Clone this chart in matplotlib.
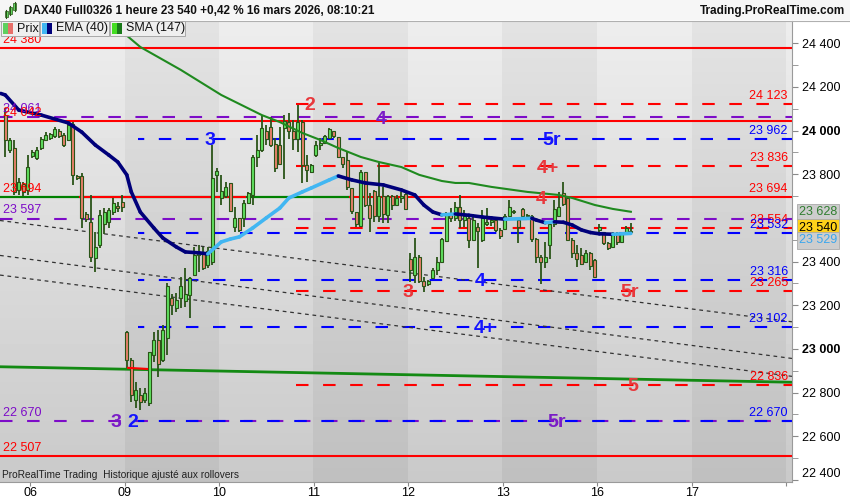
import numpy as np
import matplotlib.pyplot as plt
from matplotlib.collections import LineCollection
from matplotlib.patches import Rectangle

plt.rcParams['font.family'] = ['Liberation Sans', 'DejaVu Sans']

# DAX40 Full0326, 1 hour bars: last 6 bars of Thu 05, then 21 bars a day, Mon 16 until 08:00
day_labels = ['06', '09', '10', '11', '12', '13', '16', '17', '']
bars_per_day = 21
first_day_bars = 6

opens = [24070, 23910, 23920, 23730, 23755, 23730, 23885, 23875, 23920, 23955, 23965, 23975, 24000, 23980,
         23955, 24030, 23790, 23790, 23620, 23580, 23415, 23475, 23570, 23580, 23625, 23655, 23675,
         23075, 22950, 22765, 22790, 22765, 22750, 22970, 23040, 22950, 23050, 23235, 23185, 23235, 23220,
         23245, 23340, 23430, 23445, 23385, 23400, 23795,
         23690, 23700, 23760, 23560, 23600, 23600, 23670, 23705, 23880, 23910, 24000, 24015, 23940, 23935,
         24010, 24040, 24000, 23960, 24040, 23840, 23810,
         23890, 23935, 23945, 23965, 24000, 23970, 23880, 23865, 23735, 23625, 23565, 23810, 23660, 23725,
         23610, 23700, 23615, 23700, 23660, 23690, 23710,
         23410, 23340, 23420, 23310, 23295, 23325, 23360, 23400, 23495, 23620, 23600, 23650, 23590, 23600,
         23500, 23560, 23500, 23570, 23580, 23590, 23545,
         23550, 23610, 23630, 23590, 23640, 23610, 23610, 23505, 23420, 23400, 23475, 23570, 23610, 23715,
         23690, 23500, 23440, 23430, 23400, 23440, 23405,
         23545, 23535, 23485, 23465, 23525, 23490, 23535, 23535]
highs = [24105, 23965, 23955, 23785, 23765, 23890, 23910, 23925, 23970, 23995, 23990, 24015, 24005, 23990,
         24035, 24040, 23795, 23805, 23625, 23705, 23535, 23635, 23645, 23645, 23690, 23675, 23705,
         23080, 22960, 22850, 22820, 22820, 22985, 23075, 23085, 23110, 23300, 23250, 23255, 23330, 23370,
         23330, 23465, 23475, 23465, 23465, 23935, 23830,
         23795, 23765, 23760, 23650, 23600, 23680, 23720, 23890, 23980, 24065, 24025, 24060, 23965, 24015,
         24070, 24080, 24050, 24115, 24050, 23890, 23845,
         23950, 23965, 23980, 24010, 24000, 23970, 23880, 23900, 23735, 23625, 23820, 23810, 23715, 23730,
         23850, 23740, 23705, 23705, 23705, 23720, 23720,
         23440, 23510, 23430, 23330, 23315, 23370, 23420, 23510, 23625, 23645, 23675, 23705, 23635, 23615,
         23620, 23575, 23635, 23645, 23605, 23600, 23555,
         23620, 23680, 23635, 23590, 23645, 23620, 23615, 23510, 23430, 23490, 23580, 23680, 23720, 23765,
         23695, 23510, 23475, 23460, 23455, 23445, 23410,
         23570, 23535, 23490, 23535, 23535, 23530, 23565, 23575]
lows = [23880, 23895, 23705, 23705, 23700, 23705, 23875, 23865, 23910, 23950, 23955, 23965, 23965, 23925,
        23950, 23750, 23775, 23555, 23580, 23400, 23350, 23460, 23525, 23555, 23615, 23625, 23625,
        22910, 22755, 22730, 22720, 22750, 22740, 22940, 22870, 22940, 22970, 23155, 23170, 23185, 23190,
        23140, 23340, 23350, 23360, 23370, 23385, 23720,
        23660, 23690, 23625, 23535, 23535, 23560, 23670, 23660, 23835, 23900, 23935, 23925, 23810, 23845,
        23780, 23960, 23910, 23900, 23760, 23765, 23805,
        23880, 23910, 23945, 23965, 23965, 23875, 23830, 23730, 23620, 23560, 23560, 23650, 23535, 23580,
        23580, 23575, 23575, 23635, 23655, 23670, 23635,
        23305, 23300, 23300, 23260, 23290, 23325, 23340, 23395, 23490, 23580, 23585, 23555, 23560, 23460,
        23500, 23370, 23490, 23565, 23565, 23535, 23505,
        23545, 23610, 23620, 23485, 23605, 23600, 23490, 23395, 23295, 23370, 23410, 23560, 23610, 23655,
        23495, 23415, 23375, 23385, 23395, 23360, 23325,
        23535, 23475, 23455, 23460, 23475, 23485, 23530, 23530]
closes = [23955, 23955, 23720, 23765, 23720, 23835, 23900, 23910, 23960, 23980, 23985, 24005, 23975, 23935,
          24025, 23795, 23785, 23600, 23595, 23420, 23465, 23615, 23625, 23635, 23670, 23645, 23650,
          22950, 22790, 22810, 22755, 22800, 22985, 23040, 22930, 23085, 23290, 23200, 23225, 23290, 23250,
          23325, 23430, 23445, 23370, 23450, 23785, 23815,
          23725, 23740, 23630, 23600, 23545, 23670, 23715, 23880, 23910, 24010, 23960, 23935, 23830, 23845,
          24045, 24000, 23960, 24040, 23840, 23820, 23840,
          23935, 23945, 23975, 24005, 23975, 23880, 23845, 23740, 23630, 23570, 23810, 23660, 23600, 23610,
          23700, 23620, 23700, 23660, 23690, 23700, 23640,
          23360, 23420, 23310, 23290, 23310, 23360, 23400, 23505, 23620, 23600, 23650, 23590, 23610, 23500,
          23590, 23540, 23600, 23580, 23590, 23545, 23515,
          23610, 23650, 23625, 23560, 23610, 23615, 23505, 23420, 23400, 23420, 23570, 23640, 23650, 23665,
          23500, 23440, 23410, 23390, 23440, 23380, 23330,
          23560, 23485, 23460, 23525, 23490, 23525, 23555, 23540]

# EMA(40) and SMA(147) (bar index, value)
ema_bar = [-1, 0, 3, 8, 14, 17, 20, 23, 25, 27, 28, 30, 33, 35, 38, 40, 43, 45, 48, 50, 52, 55, 58, 61, 63,
           66, 68, 72, 74, 77, 80, 84, 88, 91, 93, 95, 97, 100, 103, 106, 108, 111, 117, 118, 120, 122, 124,
           126, 128, 130, 132, 135, 139]
ema_val = [24170, 24163, 24094, 24071, 24035, 23993, 23934, 23888, 23856, 23797, 23719, 23627, 23554, 23508,
           23467, 23444, 23440, 23435, 23490, 23503, 23513, 23554, 23600, 23645, 23691, 23719, 23737, 23774,
           23792, 23774, 23760, 23751, 23728, 23705, 23659, 23627, 23614, 23618, 23612, 23604, 23600, 23594,
           23598, 23590, 23578, 23582, 23580, 23567, 23545, 23533, 23527, 23525, 23529]
sma_bar = [25, 30, 39, 48, 57, 61, 66, 70, 74, 79, 83, 88, 92, 97, 100, 103, 108, 116, 123, 126, 131, 135, 139]
sma_val = [24470, 24383, 24278, 24163, 24071, 24039, 23989, 23957, 23920, 23879, 23856, 23833, 23797, 23769,
           23760, 23760, 23742, 23719, 23705, 23691, 23659, 23641, 23628]

# horizontal levels
red_solid = [24380, 24042, 22507]
purple_dashed = [24061, 23597, 22670]
blue_dashed = [23962, 23532, 23316, 23102, 22670]
red_dashed = [24123, 23836, 23554, 23265, 22836]
level_23694 = 23694

# trend lines: price at left edge / right edge
dotted_start = [23588, 23428, 23338]
dotted_end = [23124, 22956, 22874]
green_trend = [22918, 22847]

# wave labels
wave_text = ['2', '4', '3', '5r', '4+', '4', '3', '4', '5r', '4+', '5', '3', '2', '5r']
wave_bar = [67.7, 83.5, 45.5, 121.5, 120.6, 119.1, 89.5, 105.5, 138.8, 106.6, 139.5, 24.6, 28.4, 122.6]
wave_price = [24123, 24061, 23962, 23962, 23836, 23694, 23265, 23316, 23265, 23102, 22836, 22670, 22670, 22670]
wave_kind = ['r', 'p', 'b', 'b', 'r', 'r', 'r', 'b', 'r', 'b', 'r', 'p', 'b', 'p']

RED, BLUE, PURPLE = '#ff0000', '#0000ff', '#7d0cc8'
label_col = {'r': '#e8383c', 'b': '#1414ff', 'p': '#7a1cc6'}

def fmt(v):
    return f'{v:,.0f}'.replace(',', ' ')

W, H = 850, 500
fig = plt.figure(figsize=(W / 100, H / 100), dpi=100)
ax = fig.add_axes([0, 18 / H, 792 / W, 461 / H])

x_lo, x_hi = -1.17, 174.8
y_lo, y_hi = 22390, 24502
ax.set_xlim(x_lo, x_hi)
ax.set_ylim(y_lo, y_hi)

# background: alternating day bands with vertical gradient
xs = np.linspace(x_lo, x_hi, 900)
day_id = np.floor((xs - (first_day_bars - 0.5)) / bars_per_day)
dark = ((day_id % 2) == 1) & (day_id >= 0)
t = np.linspace(0, 1, 300)[:, None]
img = (0.93 - 0.14 * t) - 0.04 * dark[None, :]
ax.imshow(img, extent=[x_lo, x_hi, y_lo, y_hi], origin='upper', aspect='auto',
          cmap='gray', vmin=0, vmax=1, zorder=0, interpolation='nearest')

# levels
dash = (0, (6, 7))
for p in red_solid:
    ax.plot([x_lo, x_hi], [p, p], color=RED, lw=1.5, zorder=2)
for p in purple_dashed:
    ax.plot([x_lo, x_hi], [p, p], color=PURPLE, lw=1.5, ls=dash, zorder=2)
for p in blue_dashed:
    ax.plot([29.5, x_hi], [p, p], color=BLUE, lw=1.5, ls=(3, (6, 7)), zorder=2)
for p in red_dashed:
    ax.plot([64.6, x_hi], [p, p], color=RED, lw=1.5, ls=dash, zorder=2)
ax.plot([x_lo, 76.6], [level_23694] * 2, color='#008000', lw=1.6, zorder=2)
ax.plot([16.6, 53.3], [level_23694] * 2, color=RED, lw=1.5, zorder=2)
ax.plot([76.6, x_hi], [level_23694] * 2, color=RED, lw=1.5, zorder=2)

for a, b in zip(dotted_start, dotted_end):
    ax.plot([x_lo, x_hi], [a, b], color='#333333', lw=0.9, ls=(0, (3, 3)), zorder=2)
ax.plot([x_lo, x_hi], green_trend, color='#138a13', lw=2, zorder=2)
ax.plot([27.3, 31.5], [22913, 22908], color=RED, lw=1.5, zorder=5)

# candles
x = np.arange(len(closes))
o, h, l, c = (np.array(v, dtype=float) for v in (opens, highs, lows, closes))
wick = '#2a5418'
ax.vlines(x, l, h, color=wick, lw=1.3, zorder=3)
body_lo = np.minimum(o, c)
body_h = np.maximum(np.abs(c - o), 3)
ax.bar(x, body_h, bottom=body_lo, width=0.62, color=np.where(c >= o, '#5fe05f', '#e8806a'),
       edgecolor=wick, linewidth=0.8, zorder=4)

# moving averages
ax.plot(sma_bar, sma_val, color='#1f8a1f', lw=1.5, zorder=6)
pts = np.column_stack([ema_bar, ema_val])
segs = np.stack([pts[:-1], pts[1:]], axis=1)
cols = ['#41b6f2' if b > a else '#00007a' for a, b in zip(ema_val[:-1], ema_val[1:])]
ax.add_collection(LineCollection(segs, colors=cols, linewidths=2.6, capstyle='round',
                                 joinstyle='round', zorder=7))

# level labels
right_labels = [(24123, RED), (23962, BLUE), (23836, RED), (23694, RED), (23554, RED), (23532, BLUE),
                (23316, BLUE), (23265, RED), (23102, BLUE), (22836, RED), (22670, BLUE)]
for p, col in right_labels:
    ax.annotate(fmt(p), xy=(1, p), xycoords=('axes fraction', 'data'), xytext=(-3, 1.5),
                textcoords='offset points', ha='right', va='bottom', fontsize=9, color=col, zorder=9)
left_labels = [(24380, RED), (24061, PURPLE), (24042, RED), (23694, RED), (23597, PURPLE),
               (22670, PURPLE), (22507, RED)]
for p, col in left_labels:
    ax.annotate(fmt(p), xy=(0, p), xycoords=('axes fraction', 'data'), xytext=(2, 1.5),
                textcoords='offset points', ha='left', va='bottom', fontsize=9, color=col, zorder=9)

for s, xb, p, k in zip(wave_text, wave_bar, wave_price, wave_kind):
    ax.annotate(s, xy=(xb, p), xytext=(0, -4.5), textcoords='offset points', ha='center',
                va='baseline', fontsize=14, fontweight='bold', color=label_col[k], zorder=10)

# axes
for side in ('top', 'left'):
    ax.spines[side].set_visible(False)
for side in ('right', 'bottom'):
    ax.spines[side].set_color('#9a9a9a')
ax.yaxis.tick_right()
major = [22400, 22600, 22800, 23000, 23200, 23400, 23800, 24000, 24200, 24400]
ax.set_yticks(major)
ax.set_yticklabels([fmt(v) for v in major])
ax.set_yticks(np.arange(22500, 24500, 200), minor=True)
ax.tick_params(axis='y', which='both', direction='out', length=4, color='#8a8a8a', labelsize=9, pad=3)
for lab in ax.get_yticklabels():
    if lab.get_text() in ('24 000', '23 000'):
        lab.set_fontweight('bold')
ax.get_yticklabels()[0].set_va('bottom')

day_edges = [first_day_bars - 0.5 + bars_per_day * k for k in range(len(day_labels))]
ax.set_xticks(day_edges)
ax.set_xticklabels(day_labels)
ax.tick_params(axis='x', direction='out', length=3, color='#8a8a8a', labelsize=9, pad=0.5)

# value boxes on price scale
for val, txt, fc, tc, dy in [(23628, '23 628', '#cdcdcd', '#2f7d2f', 0),
                             (23540, '23 540', '#ffd21a', '#000000', 2.5),
                             (23529, '23 529', '#cdcdcd', '#3aa6ee', -5)]:
    ax.annotate(txt, xy=(1, val), xycoords=('axes fraction', 'data'), xytext=(5, dy),
                textcoords='offset points', ha='left', va='center', fontsize=9, color=tc,
                bbox=dict(boxstyle='square,pad=0.18', fc=fc, ec='#aaaaaa', lw=0.6),
                annotation_clip=False, zorder=11)

ax.text(0.003, 22423, 'ProRealTime Trading  Historique ajusté aux rollovers', fontsize=7.3,
        color='#222222', va='center', transform=ax.get_yaxis_transform(), zorder=9)

# header bar
def fx(px):
    return px / W

def fy(py):
    return 1 - py / H

fig.patches.append(Rectangle((0, fy(20)), 1, 20 / H, transform=fig.transFigure,
                             fc='#f6f6f6', ec='none', zorder=0))
fig.lines.append(plt.Line2D([0, 1], [fy(20.5)] * 2, transform=fig.transFigure, color='#b0b0b0', lw=0.8))
for cx, top, bot in [(6, 11, 17), (10, 7, 14), (15, 3, 10)]:
    fig.lines.append(plt.Line2D([fx(cx)] * 2, [fy(top - 1), fy(bot + 1)], transform=fig.transFigure,
                                color='#2a5418', lw=0.8))
    fig.patches.append(Rectangle((fx(cx - 1.5), fy(bot)), 3 / W, (bot - top) / H, transform=fig.transFigure,
                                 fc='#5fe05f', ec='#2a5418', lw=0.5))
fig.text(fx(24), fy(11), 'DAX40 Full0326 1 heure 23 540 +0,42 % 16 mars 2026, 08:10:21', fontsize=8.5,
         fontweight='bold', va='center', ha='left', color='#111111')
fig.text(fx(845), fy(11), 'Trading.ProRealTime.com', fontsize=8.5, fontweight='bold', va='center',
         ha='right', color='#111111')

# legend row
for x0, x1, name, c1, c2 in [(1, 39, 'Prix', '#5fd05f', '#e8706a'),
                             (40, 109, 'EMA (40)', '#41b6f2', '#00007a'),
                             (110, 185, 'SMA (147)', '#44dd22', '#1a7a1a')]:
    fig.patches.append(Rectangle((fx(x0), fy(36)), (x1 - x0) / W, 15 / H, transform=fig.transFigure,
                                 fc='#efefef', ec='#a8a8a8', lw=0.7, zorder=5))
    fig.patches.append(Rectangle((fx(x0 + 2), fy(34)), 5 / W, 11 / H, transform=fig.transFigure,
                                 fc=c1, ec='none', zorder=6))
    fig.patches.append(Rectangle((fx(x0 + 7), fy(34)), 5 / W, 11 / H, transform=fig.transFigure,
                                 fc=c2, ec='none', zorder=6))
    fig.text(fx(x0 + 16), fy(28.5), name, fontsize=9, va='center', ha='left', color='#111111', zorder=7)

fig.savefig('out.png', dpi=100, facecolor='white')
